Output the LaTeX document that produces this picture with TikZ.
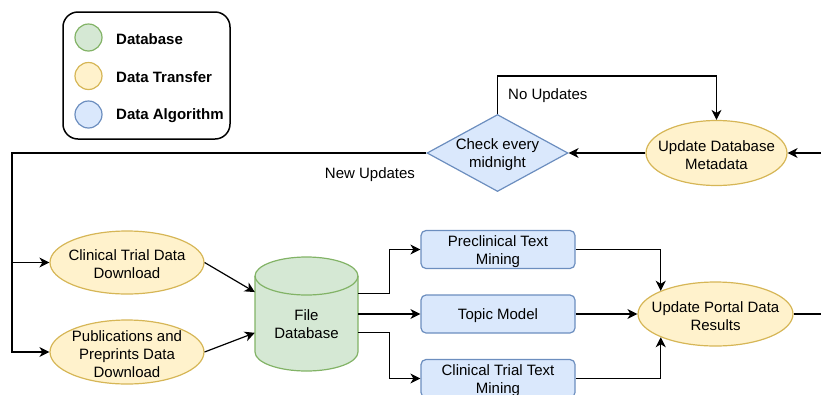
\documentclass[tikz,border=0pt]{standalone}
\usepackage{fontspec}
\setmainfont{Liberation Sans}
\usetikzlibrary{arrows.meta,shapes.geometric}
\definecolor{dbfill}{HTML}{D5E8D4}
\definecolor{dbline}{HTML}{82B366}
\definecolor{trfill}{HTML}{FFF2CC}
\definecolor{trline}{HTML}{D6B656}
\definecolor{alfill}{HTML}{DAE8FC}
\definecolor{alline}{HTML}{6C8EBF}
\begin{document}
\begin{tikzpicture}[x=1pt,y=-1pt,
  every node/.style={font=\fontsize{15}{18}\selectfont, align=center, inner sep=0pt},
  txt/.style={label={[align=center, yshift=-2pt]center:#1}},
  transfer/.style={ellipse, draw=trline, fill=trfill, line width=1.2pt},
  algo/.style={rectangle, rounded corners=5pt, draw=alline, fill=alfill, line width=1.2pt, minimum width=154pt, minimum height=38pt},
  conn/.style={line width=1.2pt, -{Stealth[length=10pt,width=10pt,inset=3pt]}},
  plain/.style={line width=1.2pt},
  legdot/.style={circle, minimum size=27pt, line width=1.2pt},
  legtext/.style={anchor=west, yshift=-1.5pt, font=\fontsize{15}{18}\selectfont\bfseries}
]
\clip (0,0) rectangle (821,394);

% legend
\node[draw, rounded corners=15pt, line width=1.5pt, minimum width=167pt, minimum height=127pt] (legend) at (146.5,75.5) {};
\node[legdot, draw=dbline, fill=dbfill] (ldb) at (88.5,37.5) {};
\node[legtext] (ldbt) at (116,37.5) {Database};
\node[legdot, draw=trline, fill=trfill] (ltr) at (88.5,76) {};
\node[legtext] (ltrt) at (116,76) {Data Transfer};
\node[legdot, draw=alline, fill=alfill] (lal) at (88.5,114.5) {};
\node[legtext] (lalt) at (116,114.5) {Data Algorithm};

% top row
\node[diamond, draw=alline, fill=alfill, line width=1.2pt, minimum width=141pt, minimum height=77pt, txt={Check every\\midnight}] (chk) at (497.5,153) {};
\node[transfer, minimum width=141pt, minimum height=65pt, txt={Update Database\\Metadata}] (meta) at (716.5,153) {};
\node[anchor=west] (nou) at (508,96) {No Updates};
\node (newu) at (370,175) {New Updates};

% downloads
\node[transfer, minimum width=154pt, minimum height=63pt, txt={Clinical Trial Data\\Download}] (clin) at (127,262.5) {};
\node[transfer, minimum width=154pt, minimum height=64pt, txt={Publications and\\Preprints Data\\Download}] (pub) at (127,352) {};

% cylinder
\path[draw=dbline, fill=dbfill, line width=1.2pt] (255,276) -- (255,352)
  arc[start angle=180, end angle=360, x radius=51.5pt, y radius=19pt] -- (358,276)
  arc[start angle=0, end angle=180, x radius=51.5pt, y radius=19pt] -- cycle;
\draw[dbline, line width=1.2pt] (255,276) arc[start angle=180, end angle=360, x radius=51.5pt, y radius=19pt];
\node[minimum width=103pt, minimum height=114pt, label={[align=center, yshift=-10pt]center:File\\Database}] (fdb) at (306.5,314) {};

% algorithms
\node[algo, txt={Preclinical Text\\Mining}] (pre) at (498,249.5) {};
\node[algo, txt={Topic Model}] (tm) at (498,314) {};
\node[algo, txt={Clinical Trial Text\\Mining}] (ctm) at (498,378.5) {};

\node[transfer, minimum width=155pt, minimum height=64pt, txt={Update Portal Data\\Results}] (portal) at (715.5,314) {};

% connectors
\coordinate (rin) at (821,153);
\coordinate (rout) at (821,314);
\coordinate (bus) at (12,153);
\draw[conn] (rin) -- (meta.east);
\draw[conn] (meta.west) -- (chk.east);
\draw[conn] (chk.north) -- ++(0,-38) -| (meta.north);
\draw[conn] (chk.west) -- (bus) |- (pub.west);
\draw[conn] (bus |- clin.west) -- (clin.west);
\draw[conn] (clin.east) -- (fdb.157);
\draw[conn] (pub.east) -- (fdb.200);
\draw[conn] (fdb.22) -- ++(31,0) |- (pre.west);
\draw[conn] (fdb.east) -- (tm.west);
\draw[conn] (fdb.340) -- ++(31,0) |- (ctm.west);
\draw[conn] (pre.east) -| (portal.157);
\draw[conn] (tm.east) -- (portal.west);
\draw[conn] (ctm.east) -| (portal.203);
\draw[plain] (portal.east) -- (rout);
\end{tikzpicture}
\end{document}
